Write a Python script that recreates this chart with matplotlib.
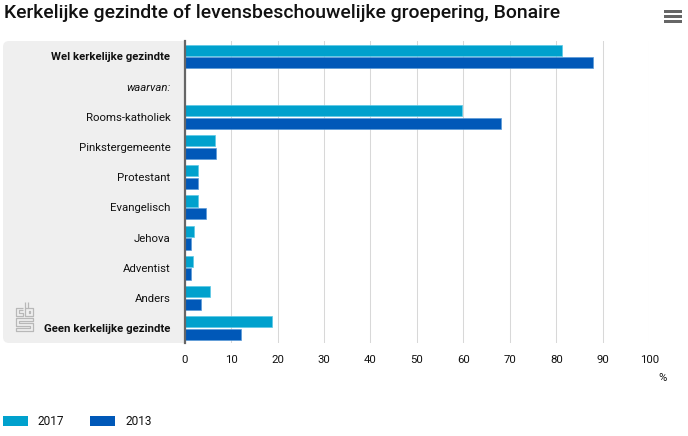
import matplotlib
matplotlib.use("Agg")
import matplotlib.pyplot as plt
import numpy as np
from matplotlib.patches import FancyBboxPatch, Rectangle

W, H = 688, 436

categories = [
    "Wel kerkelijke gezindte", "waarvan:", "Rooms-katholiek", "Pinkstergemeente",
    "Protestant", "Evangelisch", "Jehova", "Adventist", "Anders",
    "Geen kerkelijke gezindte",
]
values_2017 = [81.2, 0, 59.6, 6.5, 2.8, 2.8, 2.1, 1.9, 5.4, 18.8]
values_2013 = [87.9, 0, 68.1, 6.7, 2.8, 4.6, 1.3, 1.3, 3.5, 12.1]
bold_labels = ["Wel kerkelijke gezindte", "Geen kerkelijke gezindte"]
xticks = [0, 10, 20, 30, 40, 50, 60, 70, 80, 90, 100]

COLOR_2017 = "#00a1cd"
COLOR_2013 = "#0058b8"
EDGE_2017 = "#5cc8e6"
EDGE_2013 = "#5b9ad8"
FONT = "Roboto"

plt.rcParams["font.family"] = [FONT, "DejaVu Sans"]

fig = plt.figure(figsize=(W / 100, H / 100), dpi=100)


def px_rect(left, top, right, bottom):
    # pixel box (y down) to figure fractions
    return [left / W, 1 - bottom / H, (right - left) / W, (bottom - top) / H]


# full-figure overlay in pixel coords for the panel, logo, menu, legend
bg = fig.add_axes([0, 0, 1, 1], zorder=0)
bg.set_xlim(0, W)
bg.set_ylim(H, 0)
bg.axis("off")

bg.add_patch(FancyBboxPatch((9, 47), 170, 290, boxstyle="round,pad=6,rounding_size=6",
                            fc="#efefef", ec="none"))
bg.add_patch(Rectangle((170, 41), 15, 302, fc="#efefef", ec="none"))

ax = fig.add_axes(px_rect(184.6, 41.4, 649.3, 343.2), zorder=1)
ax.patch.set_alpha(0)
y = np.arange(len(categories))
bar_h = 11.2 / 30.2
ax.barh(y - 0.21, values_2017, height=bar_h, color=COLOR_2017, edgecolor=EDGE_2017,
        linewidth=0.5, zorder=3)
ax.barh(y + 0.21, values_2013, height=bar_h, color=COLOR_2013, edgecolor=EDGE_2013,
        linewidth=0.5, zorder=3)
ax.set_xlim(0, 100)
ax.set_ylim(len(categories) - 0.5, -0.5)
ax.set_xticks(xticks)
ax.set_xticklabels([str(t) for t in xticks], fontsize=8.2, color="#111111")
ax.tick_params(axis="x", length=0, pad=8.3)
ax.grid(axis="x", color="#d8d8d8", linewidth=0.75, zorder=1)
ax.set_axisbelow(True)
for side in ["top", "right", "bottom"]:
    ax.spines[side].set_visible(False)
ax.spines["left"].set_color("#666666")
ax.spines["left"].set_linewidth(1.6)
ax.spines["left"].set_zorder(5)

ax.set_yticks(y)
ax.set_yticklabels(categories, fontsize=8.2, color="#111111")
ax.tick_params(axis="y", length=0, pad=10.3)
for lab in ax.get_yticklabels():
    if lab.get_text() in bold_labels:
        lab.set_fontweight("bold")
    if lab.get_text() == "waarvan:":
        lab.set_fontstyle("italic")

fig.text(4 / W, 1 - 13 / H, "Kerkelijke gezindte of levensbeschouwelijke groepering, Bonaire",
         fontsize=13.95, fontweight="medium", color="#111111", va="center", ha="left")
bg.text(663, 378, "%", fontsize=8.2, ha="center", va="center", color="#111111")

# legend
for x0, color, label in [(3, COLOR_2017, "2017"), (90, COLOR_2013, "2013")]:
    bg.add_patch(Rectangle((x0, 416), 25, 10, fc=color, ec="none"))
    bg.text(x0 + 35, 421, label, fontsize=8.6, va="center", ha="left", color="#111111")

# menu icon
for yy in [11.5, 16.5, 21.5]:
    bg.add_patch(Rectangle((664, yy - 1.3), 18, 2.6, fc="#666666", ec="none"))

# cbs logo
LOGO = "#b8b8b8"
logo_paths = [
    ([23, 15.7, 15.7, 23, 23, 18.5, 18.5, 23], [307.5, 307.5, 316, 316, 313.3, 313.3, 310.3, 310.3]),
    ([25, 25, 33, 33, 27.5], [302, 316, 316, 307.5, 307.5]),
    ([27.5, 27.5, 25], [302, 307.5, 307.5]),
    ([28.5, 30, 30, 28.5, 28.5], [310.5, 310.5, 313.3, 313.3, 310.5]),
    ([33, 15.7, 15.7, 30, 30, 15.7, 15.7, 33, 33, 18.5, 18.5, 33, 33],
     [318, 318, 325.5, 325.5, 327.5, 327.5, 330.5, 330.5, 322.7, 322.7, 320.7, 320.7, 318]),
]
for xs, ys in logo_paths:
    bg.plot(xs, ys, color=LOGO, linewidth=0.9, solid_capstyle="butt")

fig.savefig("out.png", dpi=100)
